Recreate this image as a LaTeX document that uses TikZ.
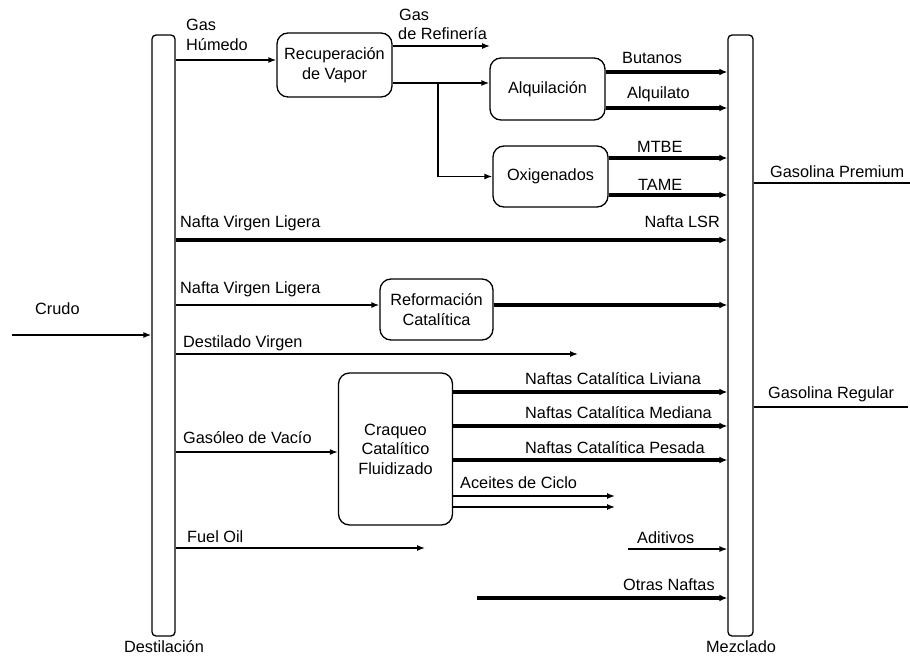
\documentclass[tikz,border=0pt]{standalone}
\usepackage{fontspec}
\setmainfont{Liberation Sans}
\usetikzlibrary{arrows.meta}
\newcommand\dgfont{\fontsize{16.3}{19.5}\selectfont}
\begin{document}
\begin{tikzpicture}[x=1pt,y=-1pt,
  ln/.style={line width=1.3pt},
  arr/.style={ln,-{Latex[length=8pt,width=6pt]}},
  thk/.style={line width=3.3pt,-{Latex[length=8pt,width=7pt]}},
  col/.style={draw,line width=1.3pt,rounded corners=4pt,minimum width=23pt,minimum height=601pt,inner sep=0pt},
  proc/.style={draw,line width=1.3pt,rounded corners=11pt,align=center,inner sep=0pt,font=\dgfont},
  lbl/.style={inner sep=0pt,font=\dgfont}
]
\useasboundingbox (0,0) rectangle (910,656);

% columns
\node[col] (dest) at (163.5,335.5) {};
\node[col,minimum width=25pt] (mez) at (740.5,335.5) {};
\node[lbl,anchor=base] (destl) at (164,652) {Destilación};
\node[lbl,anchor=base] (mezl) at (741,652) {Mezclado};

% process boxes
\node[proc,minimum width=115pt,minimum height=64pt] (rec) at (334.5,65) {Recuperación\\de Vapor};
\node[proc,minimum width=115pt,minimum height=62pt] (alq) at (547.5,89) {Alquilación};
\node[proc,minimum width=115pt,minimum height=61pt] (oxi) at (550.5,176.5) {Oxigenados};
\node[proc,minimum width=113pt,minimum height=61pt] (ref) at (436.5,309.5) {Reformación\\Catalítica};
\node[proc,minimum width=114pt,minimum height=152pt] (cra) at (395.5,449) {Craqueo\\Catalítico\\Fluidizado};

% labels
\node[lbl,anchor=base west] (gh1) at (186,30) {Gas};
\node[lbl,anchor=base west] (gh2) at (186,50) {Húmedo};
\node[lbl,anchor=base west] (gr1) at (399,20) {Gas};
\node[lbl,anchor=base west] (gr2) at (398,39) {de Refinería};
\node[lbl,anchor=base west] (bu) at (622,63) {Butanos};
\node[lbl,anchor=base west] (al) at (627,98) {Alquilato};
\node[lbl,anchor=base west] (mt) at (637,152) {MTBE};
\node[lbl,anchor=base west] (ta) at (638,190) {TAME};
\node[lbl,anchor=base west] (gp) at (770,177) {Gasolina Premium};
\node[lbl,anchor=base west] (gre) at (768,398) {Gasolina Regular};
\node[lbl,anchor=base west] (nv1) at (180,227) {Nafta Virgen Ligera};
\node[lbl,anchor=base east] (lsr) at (720,227) {Nafta LSR};
\node[lbl,anchor=base west] (nv2) at (180,293) {Nafta Virgen Ligera};
\node[lbl,anchor=base west] (cr) at (35,314) {Crudo};
\node[lbl,anchor=base west] (dv) at (183,347) {Destilado Virgen};
\node[lbl,anchor=base west] (nl) at (525,384) {Naftas Catalítica Liviana};
\node[lbl,anchor=base west] (nm) at (525,418) {Naftas Catalítica Mediana};
\node[lbl,anchor=base west] (np) at (525,453) {Naftas Catalítica Pesada};
\node[lbl,anchor=base west] (gv) at (183,443) {Gasóleo de Vacío};
\node[lbl,anchor=base west] (ac) at (460,488) {Aceites de Ciclo};
\node[lbl,anchor=base west] (fo) at (187,542) {Fuel Oil};
\node[lbl,anchor=base west] (ad) at (637,543) {Aditivos};
\node[lbl,anchor=base west] (on) at (623,590) {Otras Naftas};

% connectors
\coordinate (ghE) at ([yshift=5pt]rec.west);
\draw[arr] (dest.east |- ghE) -- (ghE);
\coordinate (grS) at ([yshift=19pt]rec.east);
\coordinate (grE) at (490,46);
\draw[arr] (grS) -- (grE);
\coordinate (raS) at ([yshift=-18pt]rec.east);
\draw[arr,line width=1.8pt] (raS) -- (raS -| alq.west);
\coordinate (br) at (438,83);
\draw[arr] (br) |- (oxi.west);

\coordinate (buS) at ([yshift=17pt]alq.east);
\draw[thk] (buS) -- (buS -| mez.west);
\coordinate (alS) at ([yshift=-19pt]alq.east);
\draw[thk] (alS) -- (alS -| mez.west);
\coordinate (mtS) at ([yshift=18.5pt]oxi.east);
\draw[thk] (mtS) -- (mtS -| mez.west);
\coordinate (taS) at ([yshift=-18.5pt]oxi.east);
\draw[thk] (taS) -- (taS -| mez.west);

\coordinate (gpE) at (910,183);
\draw[ln] (mez.east |- gpE) -- (gpE);
\coordinate (grgE) at (908,407);
\draw[ln] (mez.east |- grgE) -- (grgE);

\draw[thk] (dest.east |- 0,240) -- (mez.west |- 0,240);
\draw[arr] (dest.east |- 0,305) -- (ref.west |- 0,305);
\draw[thk] (ref.east |- 0,305) -- (mez.west |- 0,305);

\coordinate (crS) at (12,335);
\draw[arr] (crS) -- (crS -| dest.west);
\coordinate (dvE) at (578,354);
\draw[arr] (dest.east |- dvE) -- (dvE);

\draw[arr] (dest.east |- 0,452) -- (cra.west |- 0,452);
\draw[thk] (cra.east |- 0,392) -- (mez.west |- 0,392);
\draw[thk] (cra.east |- 0,426) -- (mez.west |- 0,426);
\draw[thk] (cra.east |- 0,460) -- (mez.west |- 0,460);
\coordinate (ac1) at (615,496);
\draw[arr] (cra.east |- ac1) -- (ac1);
\coordinate (ac2) at (615,507);
\draw[arr] (cra.east |- ac2) -- (ac2);

\coordinate (foE) at (425,548);
\draw[arr] (dest.east |- foE) -- (foE);
\coordinate (adS) at (628,549);
\draw[arr] (adS) -- (adS -| mez.west);
\coordinate (onS) at (477,598);
\draw[thk] (onS) -- (onS -| mez.west);
\end{tikzpicture}
\end{document}
